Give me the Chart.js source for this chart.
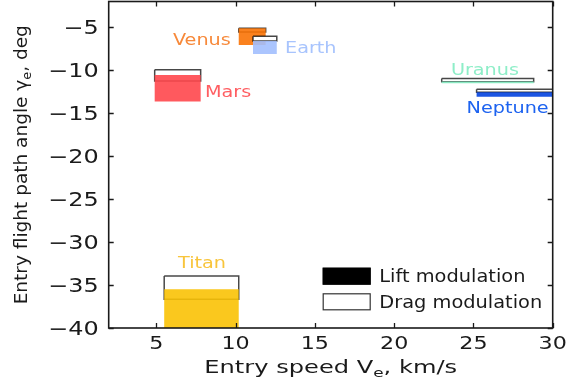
<!DOCTYPE html>
<html>
<head>
<meta charset="utf-8">
<script src="https://cdn.jsdelivr.net/npm/chart.js@4.4.0/dist/chart.umd.min.js"></script>
<style>
  html, body { margin: 0; padding: 0; background: #ffffff; }
  #wrap { width: 568px; height: 385px; }
</style>
</head>
<body>
<div id="wrap"><canvas id="c" width="568" height="385"></canvas></div>
<script>
// Entry corridors per destination: speed span and flight path angle spans
const planets    = ['Venus', 'Earth', 'Mars', 'Titan', 'Uranus', 'Neptune'];
const speedMin   = [10.2, 11.1, 4.9, 5.5, 23.0, 25.2];          // km/s
const speedMax   = [11.9, 12.6, 7.8, 10.2, 28.8, 31.0];
const liftTop    = [-5.1, -6.6, -10.55, -35.5, -11.3, -12.55];  // deg
const liftBottom = [-7.05, -8.1, -13.65, -41.0, -11.5, -13.1];
const dragTop    = [-5.1, -6.05, -9.95, -33.95, -10.95, -12.2];
const dragBottom = [-5.55, -6.6, -11.25, -36.65, -11.35, -12.55];

const xTicks = [5, 10, 15, 20, 25, 30];
const yTicks = [-40, -35, -30, -25, -20, -15, -10, -5];

// Planet name anchors (data units, left edge / baseline)
const labelX = [6.05, 13.12, 8.07, 6.37, 23.58, 24.57];
const labelY = [-7.06, -7.96, -13.06, -33.06, -10.56, -14.95];

const fillColors  = ['#f97306', '#a2bffe', '#ff474c', '#fac205', '#86efc4', '#0343df'];
const labelColors = ['#f7893a', '#a8c4fd', '#ff5e62', '#f8c53c', '#8eeec8', '#1d63f0'];

const FONT = "'DejaVu Sans', 'Liberation Sans', sans-serif";

function rectPoints(x0, x1, yA, yB) {
  return [
    { x: x0, y: yA }, { x: x1, y: yA }, { x: x1, y: yB }, { x: x0, y: yB }, { x: x0, y: yA }
  ];
}

function withAlpha(hex, a) {
  const n = parseInt(hex.slice(1), 16);
  return `rgba(${(n >> 16) & 255}, ${(n >> 8) & 255}, ${n & 255}, ${a})`;
}

// drag box first, then lift band on top, planet by planet
const datasets = [];
let seq = 0;
planets.forEach((p, i) => {
  datasets.push({
    label: p + ' drag modulation',
    data: rectPoints(speedMin[i], speedMax[i], dragTop[i], dragBottom[i]),
    showLine: true, fill: 'shape',
    backgroundColor: '#ffffff',
    borderColor: 'rgba(0, 0, 0, 0.72)', borderWidth: 1.5,
    borderJoinStyle: 'miter',
    pointRadius: 0, pointHoverRadius: 0,
    order: 100 - seq++
  });
  datasets.push({
    label: p + ' lift modulation',
    data: rectPoints(speedMin[i], speedMax[i], liftTop[i], liftBottom[i]),
    showLine: true, fill: 'shape',
    backgroundColor: withAlpha(fillColors[i], 0.9),
    borderColor: 'rgba(0, 0, 0, 0)', borderWidth: 0,
    pointRadius: 0, pointHoverRadius: 0,
    order: 100 - seq++
  });
});

function drawStretched(ctx, text, x, y, size, sx, color, align) {
  ctx.save();
  ctx.translate(x, y);
  ctx.scale(sx, 1);
  ctx.font = size + 'px ' + FONT;
  ctx.fillStyle = color;
  ctx.textAlign = align;
  ctx.textBaseline = 'alphabetic';
  ctx.fillText(text, 0, 0);
  ctx.restore();
}

// text with a subscript piece, centred on the origin of the current transform
function drawRichCentered(ctx, segs, size, color) {
  let w = 0;
  segs.forEach(s => {
    ctx.font = (s.sub ? size * 0.7 : size) + 'px ' + FONT;
    w += ctx.measureText(s.t).width;
  });
  let x = -w / 2;
  ctx.fillStyle = color;
  ctx.textAlign = 'left';
  ctx.textBaseline = 'alphabetic';
  segs.forEach(s => {
    const fs = s.sub ? size * 0.7 : size;
    ctx.font = fs + 'px ' + FONT;
    ctx.fillText(s.t, x, s.sub ? size * 0.22 : 0);
    x += ctx.measureText(s.t).width;
  });
}

const fmt = v => (v < 0 ? '\u2212' + Math.abs(v) : String(v));

const framePlugin = {
  id: 'frame',
  afterDatasetsDraw(chart) {
    const { ctx, chartArea: a, scales: { x, y } } = chart;
    const ink = '#1a1a1a';

    // planet names
    planets.forEach((p, i) => {
      drawStretched(ctx, p, x.getPixelForValue(labelX[i]), y.getPixelForValue(labelY[i]),
        16, 1.2, labelColors[i], 'left');
    });

    // inward ticks on all four sides
    ctx.save();
    ctx.strokeStyle = ink;
    ctx.lineWidth = 1.3;
    const tl = 5;
    ctx.beginPath();
    xTicks.forEach(v => {
      const px = Math.round(x.getPixelForValue(v)) + 0.5;
      ctx.moveTo(px, a.bottom); ctx.lineTo(px, a.bottom - tl);
      ctx.moveTo(px, a.top); ctx.lineTo(px, a.top + tl);
    });
    yTicks.forEach(v => {
      const py = Math.round(y.getPixelForValue(v)) + 0.5;
      ctx.moveTo(a.left, py); ctx.lineTo(a.left + tl, py);
      ctx.moveTo(a.right, py); ctx.lineTo(a.right - tl, py);
    });
    ctx.stroke();

    // frame
    ctx.lineWidth = 1.6;
    ctx.strokeRect(a.left, a.top, a.right - a.left, a.bottom - a.top);
    ctx.restore();

    // tick labels
    xTicks.forEach(v => {
      drawStretched(ctx, fmt(v), x.getPixelForValue(v), a.bottom + 21.3, 18.5, 1.2, ink, 'center');
    });
    yTicks.forEach(v => {
      drawStretched(ctx, fmt(v), a.left - 10, y.getPixelForValue(v) + 6.8, 19, 1.26, ink, 'right');
    });

    // axis titles
    ctx.save();
    ctx.translate((a.left + a.right) / 2, a.bottom + 45.3);
    ctx.scale(1.34, 1);
    drawRichCentered(ctx, [{ t: 'Entry speed V' }, { t: 'e', sub: true }, { t: ', km/s' }], 18, ink);
    ctx.restore();

    ctx.save();
    ctx.translate(a.left - 82, (a.top + a.bottom) / 2);
    ctx.rotate(-Math.PI / 2);
    drawRichCentered(ctx, [{ t: 'Entry flight path angle \u03b3' }, { t: 'e', sub: true }, { t: ', deg' }], 18.5, ink);
    ctx.restore();

    // legend
    const lx = a.right - 230, bw = 48, bh = 17;
    const rows = [
      { text: 'Lift modulation', top: a.bottom - 60.3, fill: '#000000' },
      { text: 'Drag modulation', top: a.bottom - 34.7, fill: '#ffffff' }
    ];
    rows.forEach(r => {
      ctx.save();
      ctx.fillStyle = r.fill;
      ctx.fillRect(lx, r.top, bw, bh);
      ctx.strokeStyle = 'rgba(0,0,0,0.8)';
      ctx.lineWidth = 1.2;
      ctx.strokeRect(lx + 0.5, r.top + 0.5, bw - 1, bh - 1);
      ctx.restore();
      drawStretched(ctx, r.text, lx + 56.6, r.top + bh / 2 + 6.2, 17, 1.14, ink, 'left');
    });
  }
};

new Chart(document.getElementById('c'), {
  type: 'scatter',
  data: { datasets },
  options: {
    responsive: false,
    devicePixelRatio: 1,
    animation: false,
    events: [],
    layout: { padding: { left: 108.7, right: 15.3, top: 1.5, bottom: 57 } },
    scales: {
      x: { type: 'linear', min: 2, max: 30, display: false },
      y: { type: 'linear', min: -40, max: -2, display: false }
    },
    plugins: {
      legend: { display: false },
      tooltip: { enabled: false },
      title: { display: false }
    }
  },
  plugins: [framePlugin]
});
</script>
</body>
</html>
